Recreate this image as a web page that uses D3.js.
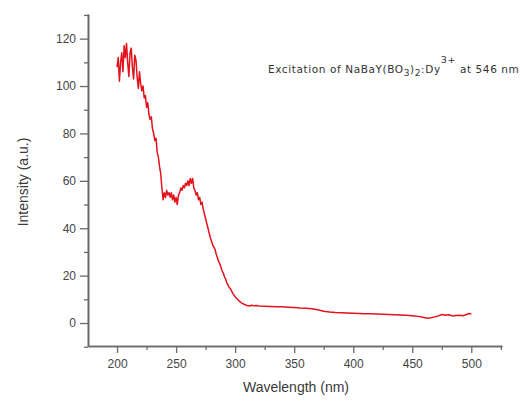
<!DOCTYPE html>
<html><head><meta charset="utf-8">
<script src="https://cdn.jsdelivr.net/npm/d3@7"></script>
<style>body{margin:0;background:#fff}svg{display:block}</style>
</head><body><svg id="c" width="521" height="401"></svg>
<script>
const wavelength = [200,201,202,203,204,205,206,207,208,209,210,211,212,213,214,215,216,217,218,219,220,221,222,223,224,225,226,227,228,229,230,231,232,233,234,235,236,237,238,239,240,241,242,243,244,245,246,247,248,249,250,251,252,253,254,255,256,257,258,259,260,261,262,263,264,265,266,267,268,269,270,271,272,273,274,275,276,277,278,279,280,281,282,283,284,285,286,287,288,289,290,291,292,293,294,295,296,297,298,299,300,302,304,306,308,310,312,314,316,318,320,325,330,335,340,345,350,355,360,365,370,375,380,385,390,395,400,405,410,415,420,425,430,435,440,445,450,455,460,463,466,469,472,475,478,481,484,487,490,493,496,498,500];
const intensity = [108,112,102,110,114,106,117,112,118,110,104,114,116,108,103,113,111,104,99,106,101,98,100,95,96,91,93,88,86,87,82,80,77,78,72,70,66,63,57,52,55,53,56,54,55,53,55,52,54,51,53,50,54,55,57,56,58,57,59,58,60,58,61,59,61,57,56,54,55,52,53,50,51,48,46,44,42,40,38,36,34.5,33,32,31,29,27.5,26,25,23.5,22,21,19.5,18.5,17,16,15,14.5,13.5,12.5,11.8,11,10,9,8.3,7.8,7.4,7.2,7.5,7.3,7.4,7.2,7.1,7.0,6.9,6.9,6.7,6.5,6.3,6.2,6.0,5.6,5.0,4.6,4.4,4.3,4.2,4.1,4.0,3.9,3.9,3.8,3.7,3.6,3.5,3.4,3.3,3.1,2.8,2.3,2.0,2.2,2.6,3.0,3.6,3.3,3.5,3.0,3.2,3.3,3.1,3.6,4.0,3.8];
const xTicks = [200,250,300,350,400,450,500];
const xMinor = [225,275,325,375,425,475,525];
const yTicks = [0,20,40,60,80,100,120];
const yMinor = [-10,10,30,50,70,90,110,130];

const svg = d3.select("#c");
const L = 88, R = 502, T = 14, B = 346;
const x = d3.scaleLinear().domain([175.4, 526]).range([L, R]);
const y = d3.scaleLinear().domain([-9.7, 130.4]).range([B, T]);

const gx = svg.append("g").attr("transform", `translate(0,${B})`);
gx.call(d3.axisBottom(x).tickValues(xMinor).tickSize(4).tickFormat("").tickSizeOuter(0));
gx.append("g").call(d3.axisBottom(x).tickValues(xTicks).tickSize(7).tickPadding(6).tickSizeOuter(0));
const gy = svg.append("g").attr("transform", `translate(${L},0)`);
gy.call(d3.axisLeft(y).tickValues(yMinor).tickSize(4).tickFormat("").tickSizeOuter(0));
gy.append("g").call(d3.axisLeft(y).tickValues(yTicks).tickSize(8).tickPadding(4).tickSizeOuter(0));
svg.selectAll(".domain").attr("stroke", "#6a6a6a").attr("stroke-width", 1.6);
svg.selectAll(".tick line").attr("stroke", "#6a6a6a").attr("stroke-width", 1.3);
svg.selectAll(".tick text").attr("fill", "#444").style("font-family", "Liberation Sans, Arial, sans-serif").style("font-size", "12px");

const data = wavelength.map((w, i) => [w, intensity[i]]);
svg.append("path").datum(data)
  .attr("fill", "none").attr("stroke", "#e3121b").attr("stroke-width", 1.5).attr("stroke-linejoin", "round")
  .attr("d", d3.line().x(d => x(d[0])).y(d => y(d[1])));

svg.append("text").attr("x", 296).attr("y", 392).attr("text-anchor", "middle")
  .attr("fill", "#3a3a3a").style("font-family", "Liberation Sans, Arial, sans-serif").style("font-size", "14px")
  .text("Wavelength (nm)");
svg.append("text").attr("transform", "translate(28,182) rotate(-90)").attr("text-anchor", "middle")
  .attr("fill", "#3a3a3a").style("font-family", "Liberation Sans, Arial, sans-serif").style("font-size", "14px")
  .text("Intensity (a.u.)");

const ann = svg.append("text").attr("x", 268).attr("y", 73).attr("fill", "#333")
  .style("font-family", "DejaVu Sans, sans-serif").style("font-size", "10.5px").style("letter-spacing", "0.6px");
ann.append("tspan").text("Excitation of NaBaY(BO");
ann.append("tspan").attr("dy", 3).style("font-size", "9px").text("3");
ann.append("tspan").attr("dy", -3).text(")");
ann.append("tspan").attr("dy", 3).style("font-size", "9px").text("2");
ann.append("tspan").attr("dy", -3).text(":Dy");
ann.append("tspan").attr("dy", -10).style("font-size", "9.5px").text("3+");
ann.append("tspan").attr("dy", 10).text(" at 546 nm");
</script></body></html>
